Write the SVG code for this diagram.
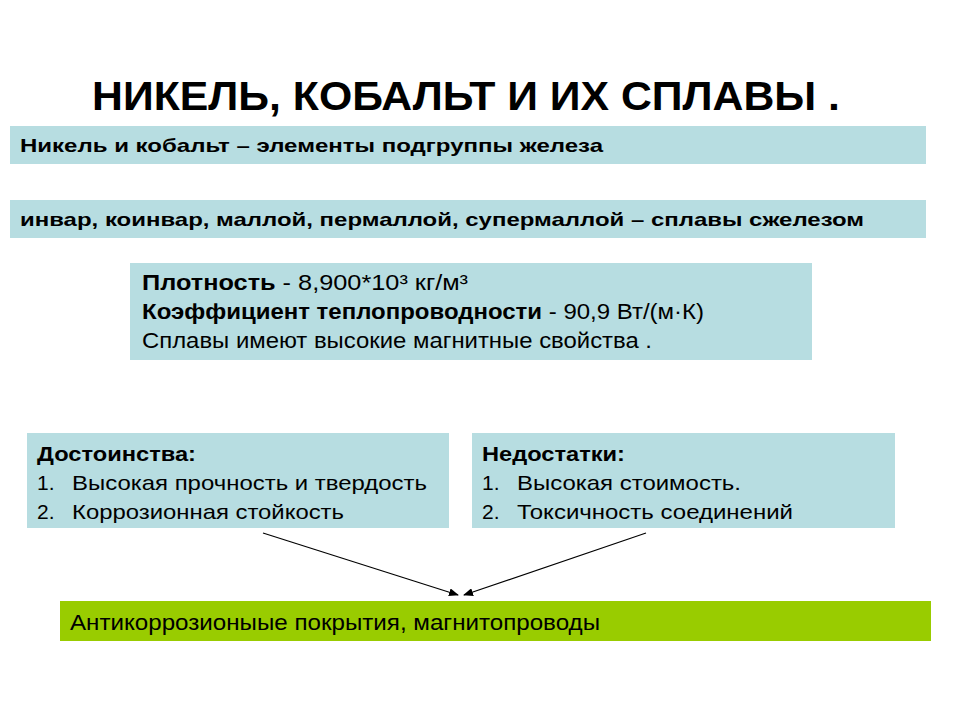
<svg xmlns="http://www.w3.org/2000/svg" width="960" height="720" viewBox="0 0 960 720">
<defs>
<style>
.box{fill:#b7dde1}
.green{fill:#99cc00}
.t{font-family:"Liberation Sans",Arial,sans-serif;fill:#000}
.b{font-weight:bold}
.conn{stroke:#000;stroke-width:1.2;fill:none}
</style>
<marker id="ah" markerWidth="10" markerHeight="8" refX="9" refY="4" orient="auto" markerUnits="userSpaceOnUse">
<path d="M0,0 L10,4 L0,8 Z" fill="#000"/>
</marker>
</defs>
<rect width="960" height="720" fill="#fff"/>
<text class="t b" x="92" y="110" font-size="40" textLength="748" lengthAdjust="spacingAndGlyphs">НИКЕЛЬ, КОБАЛЬТ И ИХ СПЛАВЫ .</text>
<g id="node1">
<rect class="box" x="10" y="126" width="916" height="38"/>
<text class="t b" x="20" y="152" font-size="19" textLength="583" lengthAdjust="spacingAndGlyphs">Никель и кобальт – элементы подгруппы железа</text>
</g>
<g id="node2">
<rect class="box" x="10" y="200" width="916" height="38"/>
<text class="t b" x="20" y="226" font-size="19" textLength="844" lengthAdjust="spacingAndGlyphs">инвар, коинвар, маллой, пермаллой, супермаллой – сплавы сжелезом</text>
</g>
<g id="node3">
<rect class="box" x="130" y="263" width="682" height="97"/>
<text class="t" x="142" y="290" font-size="22" textLength="326" lengthAdjust="spacingAndGlyphs"><tspan class="b">Плотность</tspan> -  8,900*10³ кг/м³</text>
<text class="t" x="142" y="319" font-size="22" textLength="562" lengthAdjust="spacingAndGlyphs"><tspan class="b">Коэффициент теплопроводности</tspan> - 90,9 Вт/(м·К)</text>
<text class="t" x="142" y="348" font-size="22" textLength="510" lengthAdjust="spacingAndGlyphs">Сплавы имеют высокие магнитные свойства .</text>
</g>
<g id="node4">
<rect class="box" x="27" y="433" width="422" height="95"/>
<text class="t b" x="37" y="461" font-size="21" textLength="159" lengthAdjust="spacingAndGlyphs">Достоинства:</text>
<text class="t" x="37" y="490" font-size="21">1.</text>
<text class="t" x="72" y="490" font-size="21" textLength="355" lengthAdjust="spacingAndGlyphs">Высокая прочность и твердость</text>
<text class="t" x="37" y="519" font-size="21">2.</text>
<text class="t" x="72" y="519" font-size="21" textLength="272" lengthAdjust="spacingAndGlyphs">Коррозионная стойкость</text>
</g>
<g id="node5">
<rect class="box" x="472" y="433" width="423" height="95"/>
<text class="t b" x="482" y="461" font-size="21" textLength="143" lengthAdjust="spacingAndGlyphs">Недостатки:</text>
<text class="t" x="482" y="490" font-size="21">1.</text>
<text class="t" x="517" y="490" font-size="21" textLength="224" lengthAdjust="spacingAndGlyphs">Высокая стоимость.</text>
<text class="t" x="482" y="519" font-size="21">2.</text>
<text class="t" x="517" y="519" font-size="21" textLength="276" lengthAdjust="spacingAndGlyphs">Токсичность соединений</text>
</g>
<g id="node6">
<rect class="green" x="60" y="601" width="871" height="40"/>
<text class="t" x="70" y="630" font-size="22" textLength="530" lengthAdjust="spacingAndGlyphs">Антикоррозионыые покрытия, магнитопроводы</text>
</g>
<g id="connectors">
<line class="conn" x1="263" y1="533" x2="458" y2="595" marker-end="url(#ah)"/>
<line class="conn" x1="646" y1="533" x2="464" y2="595" marker-end="url(#ah)"/>
</g>
</svg>
